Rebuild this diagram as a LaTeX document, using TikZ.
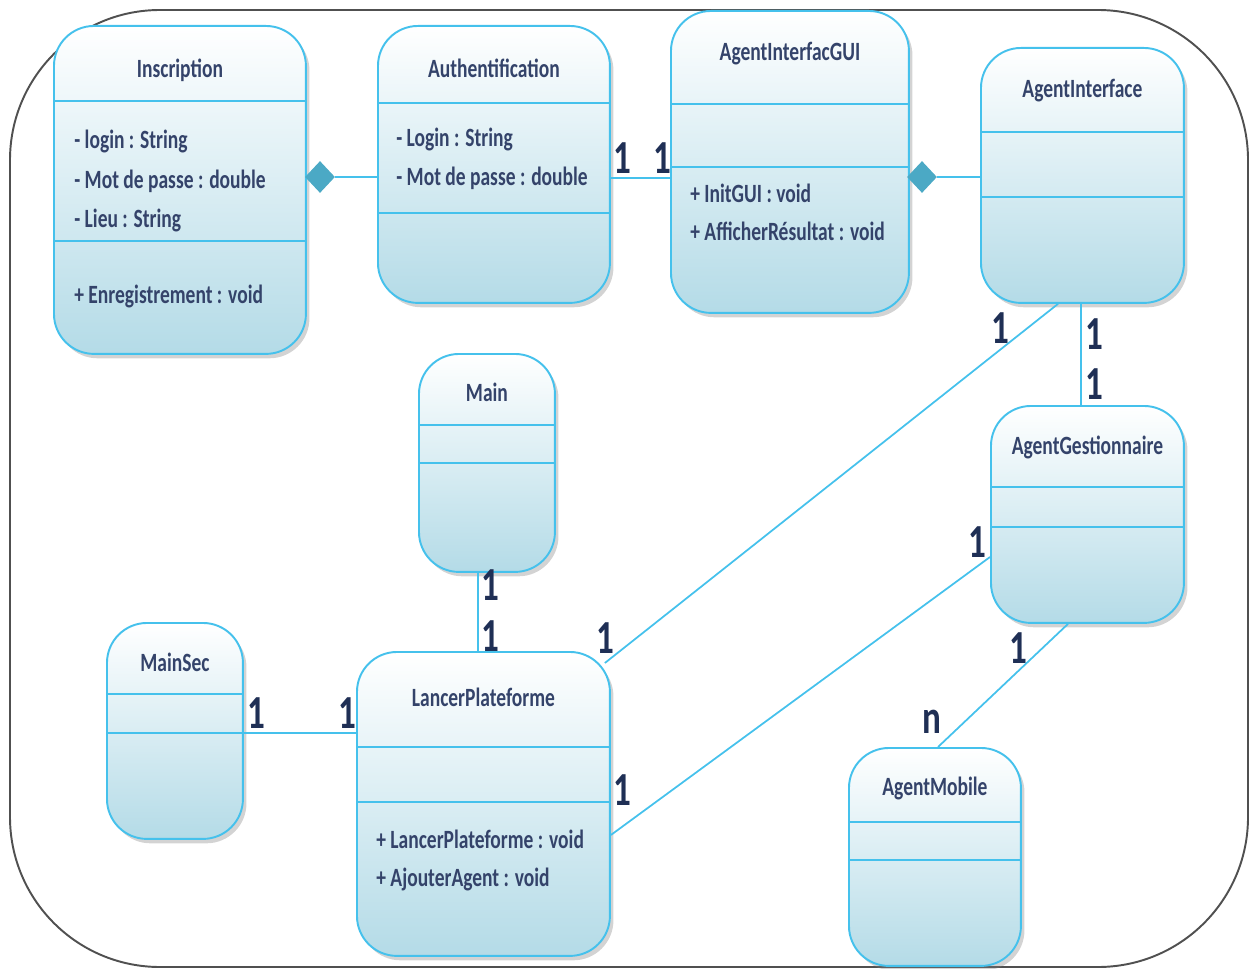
\documentclass[tikz,border=0pt]{standalone}
\usepackage{fontspec}
\setmainfont{Carlito}[FakeStretch=0.74]
\usetikzlibrary{shapes.geometric,shadows}

\definecolor{umlline}{HTML}{45C1EC}
\definecolor{umlfill}{HTML}{B4DBE7}
\definecolor{umltext}{HTML}{34436A}
\definecolor{diafill}{HTML}{4BA9C5}
\definecolor{multtext}{HTML}{1F2F55}
\definecolor{framecol}{HTML}{505050}

\tikzset{
    cls/.style={draw=umlline, line width=1.1pt, rounded corners=0.8cm,
        top color=white, bottom color=umlfill, anchor=north west, inner sep=0pt,
        drop shadow={shadow xshift=2pt, shadow yshift=-2.5pt, opacity=0.35}},
    sep/.style={draw=umlline, line width=1.1pt},
    conn/.style={draw=umlline, line width=1pt},
    title/.style={text=umltext, font=\fontsize{15}{18}\selectfont\bfseries},
    mbr/.style={text=umltext, anchor=west, inner sep=0pt, font=\fontsize{15}{18}\selectfont\bfseries},
    mult/.style={text=multtext, inner sep=0pt, font=\fontsize{27}{30}\selectfont\bfseries},
    comp/.style={diamond, fill=diafill, minimum width=0.6cm, minimum height=0.64cm, inner sep=0pt}
}

\begin{document}
\begin{tikzpicture}[x=0.02cm, y=-0.02cm]
    \useasboundingbox (0,0) rectangle (1250,969);
    \draw[draw=framecol, line width=1.1pt, rounded corners=3cm] (10,10) rectangle (1248,967);

    % classes
    \node[cls, minimum width=5.04cm, minimum height=6.56cm] (insc) at (53,25) {};
    \node[cls, minimum width=4.64cm, minimum height=5.54cm] (auth) at (377,25) {};
    \node[cls, minimum width=4.76cm, minimum height=6.04cm] (gui) at (670,10) {};
    \node[cls, minimum width=4.06cm, minimum height=5.10cm] (ai) at (980,47) {};
    \node[cls, minimum width=2.72cm, minimum height=4.36cm] (main) at (418,353) {};
    \node[cls, minimum width=3.86cm, minimum height=4.34cm] (ag) at (990,405) {};
    \node[cls, minimum width=2.72cm, minimum height=4.32cm] (ms) at (106,622) {};
    \node[cls, minimum width=5.06cm, minimum height=6.08cm] (lp) at (356,651) {};
    \node[cls, minimum width=3.44cm, minimum height=4.36cm] (am) at (848,747) {};

    % compartments
    \draw[sep] (insc.west |- 0,101) -- (insc.east |- 0,101);
    \draw[sep] (insc.west |- 0,241) -- (insc.east |- 0,241);
    \draw[sep] (auth.west |- 0,103) -- (auth.east |- 0,103);
    \draw[sep] (auth.west |- 0,213) -- (auth.east |- 0,213);
    \draw[sep] (gui.west |- 0,104) -- (gui.east |- 0,104);
    \draw[sep] (gui.west |- 0,167) -- (gui.east |- 0,167);
    \draw[sep] (ai.west |- 0,132) -- (ai.east |- 0,132);
    \draw[sep] (ai.west |- 0,197) -- (ai.east |- 0,197);
    \draw[sep] (main.west |- 0,425) -- (main.east |- 0,425);
    \draw[sep] (main.west |- 0,463) -- (main.east |- 0,463);
    \draw[sep] (ag.west |- 0,487) -- (ag.east |- 0,487);
    \draw[sep] (ag.west |- 0,527) -- (ag.east |- 0,527);
    \draw[sep] (ms.west |- 0,694) -- (ms.east |- 0,694);
    \draw[sep] (ms.west |- 0,733) -- (ms.east |- 0,733);
    \draw[sep] (lp.west |- 0,747) -- (lp.east |- 0,747);
    \draw[sep] (lp.west |- 0,802) -- (lp.east |- 0,802);
    \draw[sep] (am.west |- 0,822) -- (am.east |- 0,822);
    \draw[sep] (am.west |- 0,860) -- (am.east |- 0,860);

    % names
    \node[title] (insc-t) at (insc.north |- 0,70) {Inscription};
    \node[title] (auth-t) at (auth.north |- 0,68) {Authentification};
    \node[title] (gui-t) at (gui.north |- 0,54) {AgentInterfacGUI};
    \node[title] (ai-t) at (ai.north |- 0,91) {AgentInterface};
    \node[title] (main-t) at (main.north |- 0,392) {Main};
    \node[title] (ag-t) at (ag.north |- 0,447) {AgentGestionnaire};
    \node[title] (ms-t) at (ms.north |- 0,662) {MainSec};
    \node[title] (lp-t) at (lp.north |- 0,697) {LancerPlateforme};
    \node[title] (am-t) at (am.north |- 0,788) {AgentMobile};

    % members
    \node[mbr] (insc-a1) at (74,141) {- login : String};
    \node[mbr] (insc-a2) at (74,181) {- Mot de passe : double};
    \node[mbr] (insc-a3) at (74,220) {- Lieu : String};
    \node[mbr] (insc-o1) at (74,296) {+ Enregistrement : void};
    \node[mbr] (auth-a1) at (396,139) {- Login : String};
    \node[mbr] (auth-a2) at (396,178) {- Mot de passe : double};
    \node[mbr] (gui-o1) at (690,193) {+ InitGUI : void};
    \node[mbr] (gui-o2) at (690,231) {+ AfficherRésultat : void};
    \node[mbr] (lp-o1) at (376,839) {+ LancerPlateforme : void};
    \node[mbr] (lp-o2) at (376,879) {+ AjouterAgent : void};

    % links
    \node[comp] (insc-d) at (320,177) {};
    \draw[conn] (insc-d.east) -- (auth.west |- insc-d.east);
    \node[comp] (gui-d) at (922,177) {};
    \draw[conn] (gui-d.east) -- (ai.west |- gui-d.east);
    \draw[conn] (auth.east |- 0,178) -- (gui.west |- 0,178);
    \draw[conn] (ai.south -| 1058,0) -- ([xshift=-0.12cm, yshift=-0.24cm]lp.north east);
    \draw[conn] (ai.south -| 1081,0) -- (ag.north -| 1081,0);
    \draw[conn] (main.south -| 478,0) -- (lp.north -| 478,0);
    \draw[conn] (ms.east |- 0,733) -- (lp.west |- 0,733);
    \draw[conn] (ag.west |- 0,557) -- (lp.east |- 0,835);
    \draw[conn] (ag.south -| 1068,0) -- (am.north -| 938,0);

    % multiplicities
    \node[mult] (m1) at (622,158) {1};
    \node[mult] (m2) at (662,158) {1};
    \node[mult] (m3) at (1000,328) {1};
    \node[mult] (m4) at (605,638) {1};
    \node[mult] (m5) at (1094,334) {1};
    \node[mult] (m6) at (1094,384) {1};
    \node[mult] (m7) at (490,585) {1};
    \node[mult] (m8) at (490,636) {1};
    \node[mult] (m9) at (256,713) {1};
    \node[mult] (m10) at (347,713) {1};
    \node[mult] (m11) at (977,542) {1};
    \node[mult] (m12) at (622,790) {1};
    \node[mult] (m13) at (1018,648) {1};
    \node[mult] (m14) at (932,722) {n};
\end{tikzpicture}
\end{document}
